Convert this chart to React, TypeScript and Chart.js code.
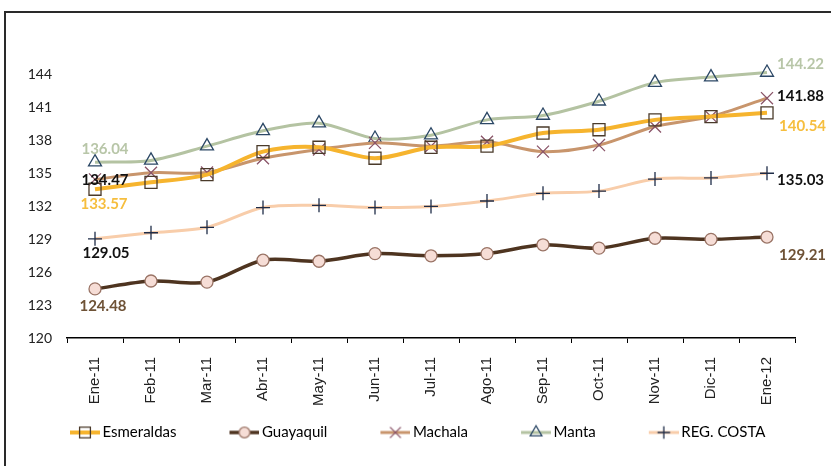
import React, { useEffect, useRef } from 'react';
import { Chart, registerables } from 'chart.js';
import { drawPoint } from 'chart.js/helpers';

Chart.register(...registerables);

const MONTHS = ['Ene-11', 'Feb-11', 'Mar-11', 'Abr-11', 'May-11', 'Jun-11', 'Jul-11', 'Ago-11', 'Sep-11', 'Oct-11', 'Nov-11', 'Dic-11', 'Ene-12'];
const ESMERALDAS = [133.57, 134.2, 134.9, 137.0, 137.4, 136.4, 137.4, 137.5, 138.7, 139.0, 139.9, 140.2, 140.54];
const GUAYAQUIL = [124.48, 125.2, 125.1, 127.1, 127.0, 127.7, 127.5, 127.7, 128.5, 128.2, 129.1, 129.0, 129.21];
const MACHALA = [134.47, 135.07, 135.1, 136.4, 137.2, 137.8, 137.5, 137.9, 137.0, 137.6, 139.3, 140.2, 141.88];
const MANTA = [136.04, 136.2, 137.5, 138.9, 139.6, 138.2, 138.5, 139.9, 140.3, 141.6, 143.3, 143.8, 144.22];
const REG_COSTA = [129.05, 129.6, 130.1, 131.9, 132.1, 131.9, 132.0, 132.5, 133.2, 133.4, 134.5, 134.6, 135.03];
const SERIES_NAMES = ['Esmeraldas', 'Guayaquil', 'Machala', 'Manta', 'REG. COSTA'];
const Y_TICKS = [120, 123, 126, 129, 132, 135, 138, 141, 144];

type Style = {
  line: string; width: number; point: string; radius: number;
  mStroke: string; mFill: string; mWidth: number; label: string;
  first: [number, number, CanvasTextAlign]; last: [number, number, CanvasTextAlign];
};

const STYLES: Style[] = [
  { line: '#F6B42E', width: 4, point: 'rect', radius: 8.5, mStroke: '#4a3a2a', mFill: 'rgba(0,0,0,0)', mWidth: 1.3, label: '#F6BE3E', first: [9, 15, 'center'], last: [12, 13, 'left'] },
  { line: '#4E3420', width: 3.5, point: 'circle', radius: 6, mStroke: '#9A7466', mFill: '#F6DDD6', mWidth: 1.3, label: '#6E5236', first: [8, 17, 'center'], last: [12, 18, 'left'] },
  { line: '#C8956C', width: 3, point: 'crossRot', radius: 8.5, mStroke: '#8A5468', mFill: 'rgba(0,0,0,0)', mWidth: 1.3, label: '#111111', first: [10, 1, 'center'], last: [10, -2, 'left'] },
  { line: '#B4C3A2', width: 3, point: 'triangle', radius: 7.5, mStroke: '#2C4866', mFill: 'rgba(0,0,0,0)', mWidth: 1.3, label: '#B8C6A8', first: [10, -13, 'center'], last: [10, -8, 'left'] },
  { line: '#F8CDAA', width: 3, point: 'cross', radius: 7, mStroke: '#1E2C48', mFill: 'rgba(0,0,0,0)', mWidth: 1.3, label: '#111111', first: [11, 14, 'center'], last: [10, 7, 'left'] },
];

const SERIES = [ESMERALDAS, GUAYAQUIL, MACHALA, MANTA, REG_COSTA];

const LEGEND_BOX = 68;
const LEGEND_PAD = 10;

function makeIcon(s: Style): HTMLCanvasElement {
  const c = document.createElement('canvas');
  const W = LEGEND_BOX + 10;
  c.width = W;
  c.height = 18;
  const g = c.getContext('2d')!;
  g.strokeStyle = s.line;
  g.lineWidth = s.width;
  g.beginPath();
  g.moveTo(W - 30, 9);
  g.lineTo(W, 9);
  g.stroke();
  g.strokeStyle = s.mStroke;
  g.fillStyle = s.mFill;
  g.lineWidth = s.mWidth;
  drawPoint(g, { pointStyle: s.point as any, rotation: 0, radius: s.radius * 0.9, borderWidth: s.mWidth } as any, W - 15, 9);
  return c;
}

const endLabels = {
  id: 'endLabels',
  afterDatasetsDraw(chart: any) {
    const ctx = chart.ctx as CanvasRenderingContext2D;
    ctx.save();
    ctx.font = 'bold 15px Lato';
    ctx.textBaseline = 'middle';
    chart.data.datasets.forEach((ds: any, di: number) => {
      const meta = chart.getDatasetMeta(di);
      const st = STYLES[di];
      const n = ds.data.length;
      [[0, st.first], [n - 1, st.last]].forEach(([idx, off]: any) => {
        const pt = meta.data[idx];
        ctx.fillStyle = st.label;
        ctx.textAlign = off[2];
        ctx.fillText(Number(ds.data[idx]).toFixed(2), pt.x + off[0], pt.y + off[1]);
      });
    });
    ctx.restore();
  },
};

export default function App() {
  const ref = useRef<HTMLCanvasElement>(null);

  useEffect(() => {
    const icons = STYLES.map(makeIcon);
    const chart = new Chart(ref.current!, {
      type: 'line',
      data: {
        labels: MONTHS,
        datasets: SERIES.map((data, i) => ({
          label: SERIES_NAMES[i],
          data,
          borderColor: STYLES[i].line,
          borderWidth: STYLES[i].width,
          backgroundColor: STYLES[i].line,
          tension: 0.3,
          pointStyle: STYLES[i].point as any,
          pointRadius: STYLES[i].radius,
          pointBorderColor: STYLES[i].mStroke,
          pointBackgroundColor: STYLES[i].mFill,
          pointBorderWidth: STYLES[i].mWidth,
          fill: false,
        })),
      },
      options: {
        responsive: false,
        animation: false,
        devicePixelRatio: 1,
        layout: { padding: { left: 17, right: 36, top: 53, bottom: 16 } },
        plugins: {
          tooltip: { enabled: false },
          legend: {
            position: 'bottom',
            align: 'start',
            labels: {
              usePointStyle: true,
              pointStyleWidth: LEGEND_BOX,
              padding: LEGEND_PAD,
              color: '#333',
              font: { family: 'Lato', size: 15 },
              generateLabels: (c: any) =>
                c.data.datasets.map((ds: any, i: number) => ({
                  text: ds.label,
                  pointStyle: icons[i],
                  fillStyle: 'transparent',
                  strokeStyle: 'transparent',
                  lineWidth: 0,
                  hidden: false,
                  datasetIndex: i,
                })),
            },
          },
        },
        scales: {
          x: {
            type: 'category',
            offset: true,
            afterFit: (s: any) => { s.height = 77; },
            grid: { display: true, drawOnChartArea: false, drawTicks: true, tickLength: 5, offset: true, color: '#000', lineWidth: 1 },
            border: { display: true, color: '#000', width: 1.5 },
            ticks: {
              autoSkip: false,
              maxRotation: 90,
              minRotation: 90,
              padding: 14,
              color: '#222',
              font: { family: 'Liberation Sans', size: 15 },
            },
          },
          y: {
            min: 120,
            max: 146,
            afterFit: (s: any) => { s.width = 50; },
            afterBuildTicks: (s: any) => { s.ticks = Y_TICKS.map((v) => ({ value: v })); },
            grid: { display: false, drawTicks: false },
            border: { display: false },
            ticks: {
              padding: 15,
              color: '#222',
              font: { family: 'Lato', size: 14 },
              callback: (v: any) => String(v),
            },
          },
        },
      },
      plugins: [endLabels],
    });
    return () => chart.destroy();
  }, []);

  return (
    <div style={{ position: 'fixed', left: 0, top: 0, width: 831, height: 466, overflow: 'hidden', background: '#fff' }}>
      <div style={{ position: 'absolute', left: 4, top: 11, width: 900, height: 600, border: '2.5px solid #2a2a2a', boxSizing: 'border-box' }} />
      <canvas ref={ref} width={831} height={466} style={{ position: 'absolute', left: 0, top: 0 }} />
    </div>
  );
}
